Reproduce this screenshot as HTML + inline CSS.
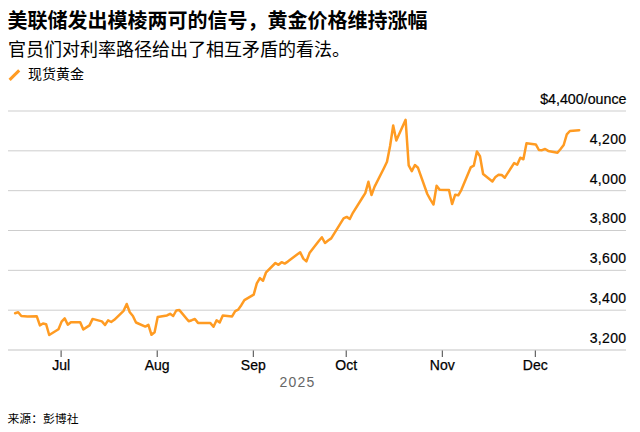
<!DOCTYPE html>
<html lang="zh-CN"><head><meta charset="utf-8"><title>chart</title>
<style>
html,body{margin:0;padding:0;background:#fff;}
body{width:640px;height:432px;position:relative;overflow:hidden;font-family:"Liberation Sans","Noto Sans CJK SC",sans-serif;color:#000;}
.t{position:absolute;white-space:nowrap;line-height:1;}
#title{left:7.5px;top:11px;font-size:20px;font-weight:bold;}
#sub{left:8px;top:40px;font-size:18px;transform:translateY(0.6px);}
#leg{left:28px;top:67px;font-size:14px;}
.yl{right:13.7px;font-size:14px;text-align:right;letter-spacing:0.3px;-webkit-text-stroke:0.2px #000;}
.xl{font-size:14px;transform:translateX(-50%);top:358px;-webkit-text-stroke:0.25px #000;}
#yr{left:279.6px;top:375px;font-size:14px;color:#666;letter-spacing:1.2px;}
#src{left:7.5px;top:414px;font-size:11.85px;}
svg{position:absolute;left:0;top:0;}
</style></head><body>
<svg width="640" height="432" viewBox="0 0 640 432">
<rect x="8" y="110.50" width="618" height="1" fill="#cdcdcd"/>
<rect x="8" y="150.33" width="618" height="1" fill="#cdcdcd"/>
<rect x="8" y="190.17" width="618" height="1" fill="#cdcdcd"/>
<rect x="8" y="230.00" width="618" height="1" fill="#cdcdcd"/>
<rect x="8" y="269.83" width="618" height="1" fill="#cdcdcd"/>
<rect x="8" y="309.67" width="618" height="1" fill="#cdcdcd"/>
<rect x="8" y="349.5" width="618" height="1" fill="#c4c4c4"/>
<rect x="60.60" y="350.5" width="1" height="6.5" fill="#444"/>
<rect x="156.70" y="350.5" width="1" height="6.5" fill="#444"/>
<rect x="252.80" y="350.5" width="1" height="6.5" fill="#444"/>
<rect x="345.70" y="350.5" width="1" height="6.5" fill="#444"/>
<rect x="441.80" y="350.5" width="1" height="6.5" fill="#444"/>
<rect x="534.80" y="350.5" width="1" height="6.5" fill="#444"/>
<polyline points="15.1,313.2 18.2,312.3 21.3,316.0 24.4,316.2 27.5,316.4 36.8,316.3 39.9,325.4 43.0,323.5 46.1,324.2 49.2,335.0 58.5,329.2 61.6,321.6 64.7,318.4 67.8,324.7 70.9,322.2 80.2,322.2 83.3,329.5 86.4,327.4 89.5,325.4 92.6,318.9 101.9,321.4 105.0,325.0 108.1,320.4 111.2,322.0 114.3,319.8 123.6,310.8 126.7,304.0 129.8,312.3 132.9,316.0 136.0,322.5 145.3,326.6 148.4,324.8 151.5,334.8 154.6,332.2 157.7,317.0 167.0,315.4 170.1,313.8 173.2,316.0 176.3,310.5 179.4,310.1 188.7,321.3 191.8,320.2 194.9,319.0 198.0,322.9 201.1,322.9 210.4,323.1 213.5,326.7 216.6,320.3 219.7,322.5 222.8,315.6 232.1,316.4 235.2,311.1 238.2,309.6 241.3,305.2 244.4,300.1 253.7,294.6 256.8,283.3 259.9,278.1 263.0,280.7 266.1,272.3 275.4,263.0 278.5,264.8 281.6,262.2 284.7,263.6 287.8,261.6 297.1,254.5 300.2,252.3 303.3,258.6 306.4,261.4 309.5,253.1 318.8,241.0 321.9,237.3 325.0,243.0 328.1,240.5 331.2,238.4 340.5,223.4 343.6,218.4 346.7,216.9 349.8,219.0 352.9,212.8 362.2,198.0 365.3,193.1 368.4,181.8 371.5,195.0 374.6,186.6 383.9,168.2 387.0,161.8 390.1,146.0 393.2,125.5 396.3,140.5 405.6,119.8 408.7,165.4 411.8,171.1 414.9,165.0 418.0,167.8 427.3,194.0 430.4,199.6 433.5,204.5 436.6,185.7 439.7,189.7 449.0,190.0 452.1,204.1 455.2,194.7 458.3,195.3 461.4,189.8 470.7,167.4 473.8,165.7 476.9,151.5 480.0,156.2 483.1,174.0 492.4,181.5 495.5,176.9 498.6,174.7 501.7,175.0 504.8,177.7 514.1,163.1 517.2,164.7 520.3,157.7 523.4,159.3 526.5,143.3 535.8,144.4 538.9,150.0 542.0,150.2 545.1,149.0 548.2,150.9 557.5,152.7 560.6,149.0 563.7,145.0 566.8,134.4 569.9,131.0 579.2,130.2" fill="none" stroke="#ff9b22" stroke-width="2.5" stroke-linejoin="round" stroke-linecap="round"/>
<line x1="9.6" y1="79.9" x2="19.2" y2="70.4" stroke="#ff9b22" stroke-width="3"/>
</svg>
<div class="t" id="title">美联储发出模棱两可的信号，黄金价格维持涨幅</div>
<div class="t" id="sub">官员们对利率路径给出了相互矛盾的看法。</div>
<div class="t" id="leg">现货黄金</div>
<div class="t yl" style="top:92px;font-size:14.25px;letter-spacing:0;right:13.5px">$4,400/ounce</div>
<div class="t yl" style="top:131.73px">4,200</div>
<div class="t yl" style="top:171.57px">4,000</div>
<div class="t yl" style="top:211.40px">3,800</div>
<div class="t yl" style="top:251.23px">3,600</div>
<div class="t yl" style="top:291.07px">3,400</div>
<div class="t yl" style="top:330.90px">3,200</div>
<div class="t xl" style="left:61.1px">Jul</div>
<div class="t xl" style="left:157.2px">Aug</div>
<div class="t xl" style="left:253.3px">Sep</div>
<div class="t xl" style="left:346.2px">Oct</div>
<div class="t xl" style="left:442.3px">Nov</div>
<div class="t xl" style="left:535.3px">Dec</div>
<div class="t" id="yr">2025</div>
<div class="t" id="src">来源：彭博社</div>
</body></html>
